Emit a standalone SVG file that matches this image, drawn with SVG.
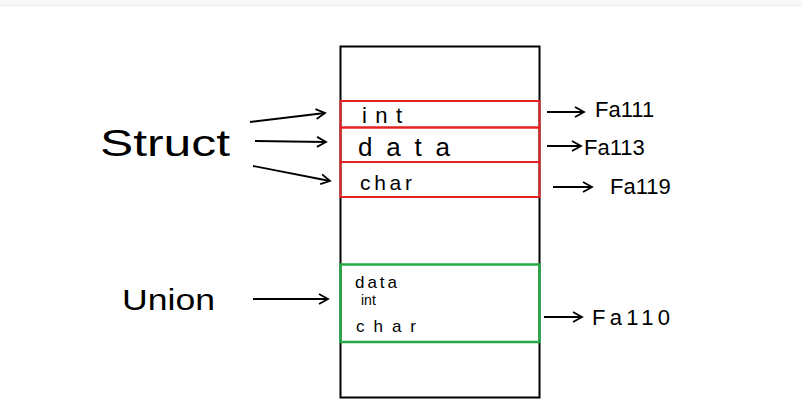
<svg xmlns="http://www.w3.org/2000/svg" width="802" height="411" viewBox="0 0 802 411">
<defs>
<marker id="ah" markerWidth="12" markerHeight="12" refX="10" refY="6" orient="auto" markerUnits="userSpaceOnUse">
<path d="M1,1 L10,6 L1,11" fill="none" stroke="#000" stroke-width="1.8"/>
</marker>
<style>
.t{font-family:"Liberation Sans",Arial,sans-serif;fill:#000}
.c{stroke:#000;stroke-width:1.8;fill:none;marker-end:url(#ah)}
</style>
</defs>
<rect x="0" y="0" width="802" height="411" fill="#fff"/>
<rect x="0" y="0" width="802" height="5" fill="#f7f7f7"/>
<line x1="0" y1="5.5" x2="802" y2="5.5" stroke="#eee" stroke-width="1"/>
<g id="memory">
<rect x="340.5" y="46.5" width="199" height="351" fill="none" stroke="#000" stroke-width="2"/>
</g>
<g id="struct-int">
<rect x="340.5" y="101" width="199" height="26.5" fill="none" stroke="#e52222" stroke-width="2"/>
<text class="t" x="362" y="123" font-size="22" textLength="40" lengthAdjust="spacing">int</text>
</g>
<g id="struct-data">
<rect x="340.5" y="127.5" width="199" height="34.5" fill="none" stroke="#e52222" stroke-width="2"/>
<text class="t" x="358" y="156" font-size="26" textLength="92" lengthAdjust="spacing">data</text>
</g>
<g id="struct-char">
<rect x="340.5" y="162" width="199" height="35" fill="none" stroke="#e52222" stroke-width="2"/>
<text class="t" x="360" y="190" font-size="21" textLength="52" lengthAdjust="spacing">char</text>
</g>
<g id="union-box">
<rect x="340.5" y="264.5" width="199" height="77.5" fill="none" stroke="#22aa44" stroke-width="2.5"/>
<text class="t" x="355" y="288" font-size="17" textLength="42" lengthAdjust="spacing">data</text>
<text class="t" x="361" y="305" font-size="14">int</text>
<text class="t" x="356" y="332" font-size="17" textLength="60" lengthAdjust="spacing">char</text>
</g>
<g id="struct-label">
<text class="t" x="100" y="156" font-size="36" textLength="130" lengthAdjust="spacingAndGlyphs">Struct</text>
</g>
<g id="union-label">
<text class="t" x="122" y="310" font-size="30" textLength="93" lengthAdjust="spacingAndGlyphs">Union</text>
</g>
<g id="addr">
<text class="t" x="595" y="117" font-size="22">Fa111</text>
<text class="t" x="584" y="155" font-size="22">Fa113</text>
<text class="t" x="610" y="194" font-size="22">Fa119</text>
<text class="t" x="592" y="325" font-size="22" textLength="78" lengthAdjust="spacing">Fa110</text>
</g>
<g id="connectors">
<path class="c" d="M250,122 L325,113"/>
<path class="c" d="M255,141 L326,142"/>
<path class="c" d="M253,166 L330,181"/>
<path class="c" d="M253,299 L328,299"/>
<path class="c" d="M547,112 L584,112"/>
<path class="c" d="M547,146 L581,146"/>
<path class="c" d="M553,187 L592,187"/>
<path class="c" d="M544,317 L582,317"/>
</g>
</svg>
